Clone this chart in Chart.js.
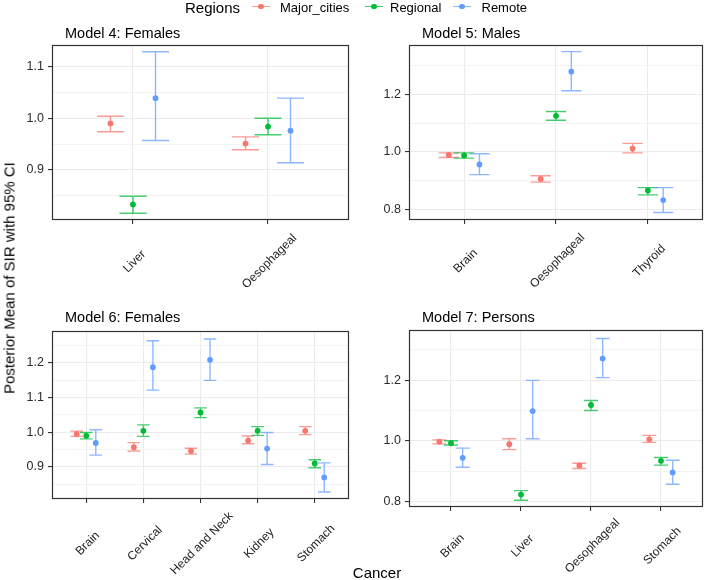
<!DOCTYPE html>
<html>
<head>
<meta charset="utf-8">
<script src="https://cdn.jsdelivr.net/npm/chart.js@4.4.1/dist/chart.umd.min.js"></script>
<style>
html,body{margin:0;padding:0;background:#fff;}
#wrap{position:relative;width:708px;height:580px;overflow:hidden;font-family:"Liberation Sans",Arial,sans-serif;background:#fff;}
#wrap canvas{position:absolute;}
.txt{position:absolute;white-space:nowrap;color:#000;}
.kline{position:absolute;height:1.4px;width:18px;}
.kdot{position:absolute;width:5.6px;height:5.6px;border-radius:50%;}
</style>
</head>
<body>
<div id="wrap"></div>
<script>
// ---------------- DATA ----------------
const regions = ['Major_cities', 'Regional', 'Remote'];

// Model 4: Females
const m4Cancers = ['Liver', 'Oesophageal'];
const m4Mean  = [[0.990, 0.951], [0.833, 0.984], [1.039, 0.976]];
const m4Lower = [[0.974, 0.939], [0.816, 0.968], [0.957, 0.914]];
const m4Upper = [[1.004, 0.964], [0.849, 1.000], [1.129, 1.039]];
const m4YTicks = [0.9, 1.0, 1.1];
const m4YMinor = [0.85, 0.95, 1.05];

// Model 5: Males
const m5Cancers = ['Brain', 'Oesophageal', 'Thyroid'];
const m5Mean  = [[0.990, 0.907, 1.012], [0.988, 1.125, 0.867], [0.957, 1.278, 0.834]];
const m5Lower = [[0.981, 0.896, 0.997], [0.979, 1.110, 0.852], [0.922, 1.212, 0.791]];
const m5Upper = [[0.997, 0.918, 1.030], [0.997, 1.140, 0.877], [0.994, 1.347, 0.877]];
const m5YTicks = [0.8, 1.0, 1.2];
const m5YMinor = [0.9, 1.1, 1.3];

// Model 6: Females
const m6Cancers = ['Brain', 'Cervical', 'Head and Neck', 'Kidney', 'Stomach'];
const m6Mean  = [[0.995, 0.957, 0.946, 0.976, 1.004], [0.990, 1.004, 1.057, 1.004, 0.910], [0.969, 1.187, 1.208, 0.953, 0.870]];
const m6Lower = [[0.988, 0.946, 0.937, 0.967, 0.993], [0.981, 0.988, 1.042, 0.991, 0.898], [0.934, 1.121, 1.149, 0.907, 0.828]];
const m6Upper = [[1.003, 0.970, 0.954, 0.989, 1.016], [0.999, 1.021, 1.070, 1.016, 0.921], [1.007, 1.263, 1.268, 0.999, 0.912]];
const m6YTicks = [0.9, 1.0, 1.1, 1.2];
const m6YMinor = [0.85, 0.95, 1.05, 1.15, 1.25];

// Model 7: Persons
const m7Cancers = ['Brain', 'Liver', 'Oesophageal', 'Stomach'];
const m7Mean  = [[0.997, 0.989, 0.919, 1.005], [0.992, 0.823, 1.118, 0.934], [0.944, 1.098, 1.271, 0.896]];
const m7Lower = [[0.990, 0.971, 0.909, 0.995], [0.986, 0.804, 1.100, 0.920], [0.913, 1.007, 1.208, 0.857]];
const m7Upper = [[1.003, 1.007, 0.926, 1.018], [1.000, 0.836, 1.133, 0.945], [0.976, 1.199, 1.337, 0.936]];
const m7YTicks = [0.8, 1.0, 1.2];
const m7YMinor = [0.9, 1.1, 1.3];

const yAxisTitle = 'Posterior Mean of SIR with 95% CI';
const xAxisTitle = 'Cancer';
const legendTitle = 'Regions';

// ---------------- STYLE ----------------
const FONT = '"Liberation Sans", Arial, sans-serif';
const colors = ['#F8766D', '#00BA38', '#619CFF'];
const barColors = ['rgba(248,118,109,0.72)', 'rgba(0,186,56,0.72)', 'rgba(97,156,255,0.72)'];
const dodge = [-1 / 6, 0, 1 / 6];

const wrap = document.getElementById('wrap');

const errorBars = {
  id: 'errorBars',
  beforeDatasetsDraw(chart, args, opts) {
    const ctx = chart.ctx, xs = chart.scales.x, ys = chart.scales.y;
    ctx.save();
    ctx.lineWidth = opts.lineWidth;
    chart.data.datasets.forEach(ds => {
      ctx.strokeStyle = ds.barColor;
      ds.data.forEach(d => {
        const x = xs.getPixelForValue(d.x);
        const x0 = xs.getPixelForValue(d.x - opts.capHalf);
        const x1 = xs.getPixelForValue(d.x + opts.capHalf);
        const yl = ys.getPixelForValue(d.lo);
        const yh = ys.getPixelForValue(d.hi);
        ctx.beginPath();
        ctx.moveTo(x, yl); ctx.lineTo(x, yh);
        ctx.moveTo(x0, yl); ctx.lineTo(x1, yl);
        ctx.moveTo(x0, yh); ctx.lineTo(x1, yh);
        ctx.stroke();
      });
    });
    ctx.restore();
  }
};

const panelDeco = {
  id: 'panelDeco',
  afterDraw(chart, args, opts) {
    const ctx = chart.ctx, a = chart.chartArea, xs = chart.scales.x;
    ctx.save();
    // frame
    ctx.strokeStyle = '#333333';
    ctx.lineWidth = 1.2;
    ctx.strokeRect(Math.round(a.left) + 0.5, Math.round(a.top) + 0.5,
                   Math.round(a.right - a.left) - 1, Math.round(a.bottom - a.top) - 1);
    // title
    ctx.fillStyle = '#000';
    ctx.font = '14.5px ' + FONT;
    ctx.textAlign = 'left';
    ctx.textBaseline = 'alphabetic';
    ctx.fillText(opts.title, a.left + 13, a.top - opts.titleOff);
    // rotated category labels
    ctx.fillStyle = '#222';
    ctx.font = '12px ' + FONT;
    ctx.textAlign = 'center';
    ctx.textBaseline = 'middle';
    opts.labels.forEach((lab, i) => {
      const x = xs.getPixelForValue(i) + 1.5;
      const y = a.bottom + opts.labOff;
      ctx.save();
      ctx.translate(x, y);
      ctx.rotate(-Math.PI / 4);
      ctx.fillText(lab, 0, 0);
      ctx.restore();
    });
    ctx.restore();
  }
};

function makePanel(p) {
  const canvas = document.createElement('canvas');
  const AXW = 40, PADT = 30, PADR = 4;
  const left = p.area.l - AXW, top = p.area.t - PADT;
  const w = p.area.r - left + PADR;
  const h = p.area.b - top + p.xh;
  canvas.width = w; canvas.height = h;
  canvas.style.left = left + 'px'; canvas.style.top = top + 'px';
  canvas.style.width = w + 'px'; canvas.style.height = h + 'px';
  wrap.appendChild(canvas);

  const majorSet = new Set(p.yTicks);
  const allY = p.yTicks.concat(p.yMinor).sort((a, b) => a - b);
  const n = p.cancers.length;

  const datasets = regions.map((r, k) => ({
    label: r,
    data: p.cancers.map((c, i) => ({ x: i + dodge[k], y: p.mean[k][i], lo: p.lower[k][i], hi: p.upper[k][i] })),
    backgroundColor: colors[k],
    borderColor: colors[k],
    barColor: barColors[k],
    pointRadius: 2.9,
    pointBorderWidth: 0,
    showLine: false
  }));

  new Chart(canvas, {
    type: 'scatter',
    data: { datasets },
    options: {
      responsive: false,
      animation: false,
      devicePixelRatio: 1,
      layout: { padding: { top: PADT, right: PADR, left: 0, bottom: 0 } },
      plugins: {
        legend: { display: false },
        tooltip: { enabled: false },
        title: { display: false },
        errorBars: { lineWidth: 1.4, capHalf: p.cap },
        panelDeco: { title: p.title, titleOff: p.titleOff, labOff: p.labOff, labels: p.cancers }
      },
      scales: {
        x: {
          type: 'linear',
          min: -0.6,
          max: n - 1 + 0.6,
          afterBuildTicks: s => { s.ticks = p.cancers.map((c, i) => ({ value: i })); },
          afterFit: s => { s.height = p.xh; },
          ticks: { display: false },
          border: { display: false },
          grid: { color: '#EBEBEB', lineWidth: 1.1, tickColor: '#333333', tickLength: 4, tickWidth: 1.1, drawTicks: true }
        },
        y: {
          type: 'linear',
          min: p.yMin,
          max: p.yMax,
          afterBuildTicks: s => { s.ticks = allY.map(v => ({ value: v })); },
          afterFit: s => { s.width = AXW; },
          border: { display: false },
          ticks: {
            autoSkip: false,
            padding: 4,
            color: '#2a2a2a',
            font: { family: FONT, size: 12.5 },
            callback: v => majorSet.has(v) ? v.toFixed(1) : ''
          },
          grid: {
            color: ctx => (ctx.tick && majorSet.has(ctx.tick.value)) ? '#EBEBEB' : '#F2F2F2',
            lineWidth: ctx => (ctx.tick && majorSet.has(ctx.tick.value)) ? 1.1 : 0.9,
            tickColor: ctx => (ctx.tick && majorSet.has(ctx.tick.value)) ? '#333333' : 'rgba(0,0,0,0)',
            tickLength: 4,
            tickWidth: 1.1,
            drawTicks: true
          }
        }
      }
    },
    plugins: [errorBars, panelDeco]
  });
}

makePanel({ title: 'Model 4: Females', cancers: m4Cancers, mean: m4Mean, lower: m4Lower, upper: m4Upper,
  yTicks: m4YTicks, yMinor: m4YMinor, yMin: 0.803, yMax: 1.142,
  area: { l: 52, t: 45, r: 349, b: 220 }, xh: 75, titleOff: 7.3, labOff: 41.5, cap: 0.1 });
makePanel({ title: 'Model 5: Males', cancers: m5Cancers, mean: m5Mean, lower: m5Lower, upper: m5Upper,
  yTicks: m5YTicks, yMinor: m5YMinor, yMin: 0.765, yMax: 1.370,
  area: { l: 409, t: 45, r: 703, b: 220 }, xh: 75, titleOff: 7.3, labOff: 41, cap: 0.11 });
makePanel({ title: 'Model 6: Females', cancers: m6Cancers, mean: m6Mean, lower: m6Lower, upper: m6Upper,
  yTicks: m6YTicks, yMinor: m6YMinor, yMin: 0.808, yMax: 1.291,
  area: { l: 52, t: 331, r: 349, b: 499 }, xh: 80, titleOff: 9.3, labOff: 44.5, cap: 0.11 });
makePanel({ title: 'Model 7: Persons', cancers: m7Cancers, mean: m7Mean, lower: m7Lower, upper: m7Upper,
  yTicks: m7YTicks, yMinor: m7YMinor, yMin: 0.782, yMax: 1.365,
  area: { l: 409, t: 330, r: 703, b: 507 }, xh: 70, titleOff: 8.3, labOff: 39, cap: 0.1 });

// ---------------- TEXT: legend & axis titles ----------------
function addText(txt, css) {
  const d = document.createElement('div');
  d.className = 'txt';
  d.textContent = txt;
  Object.assign(d.style, css);
  wrap.appendChild(d);
  return d;
}
addText(legendTitle, { left: '185px', top: '0px', fontSize: '15px', lineHeight: '15px' });
const keyX = [252, 365, 453];
const labX = [280, 390, 481.5];
regions.forEach((r, k) => {
  const ln = document.createElement('div');
  ln.className = 'kline';
  Object.assign(ln.style, { left: keyX[k] + 'px', top: '6px', background: barColors[k] });
  wrap.appendChild(ln);
  const dt = document.createElement('div');
  dt.className = 'kdot';
  Object.assign(dt.style, { left: (keyX[k] + 9 - 2.8) + 'px', top: (6.7 - 2.8) + 'px', background: colors[k] });
  wrap.appendChild(dt);
  addText(r, { left: labX[k] + 'px', top: '0px', fontSize: '13px', lineHeight: '15px' });
});
addText(yAxisTitle, { left: '9px', top: '278px', fontSize: '15px', lineHeight: '15px',
  transform: 'translate(-50%,-50%) rotate(-90deg)' });
addText(xAxisTitle, { left: '377px', top: '571.5px', fontSize: '15px', lineHeight: '15px',
  transform: 'translate(-50%,-50%)' });
</script>
</body>
</html>
